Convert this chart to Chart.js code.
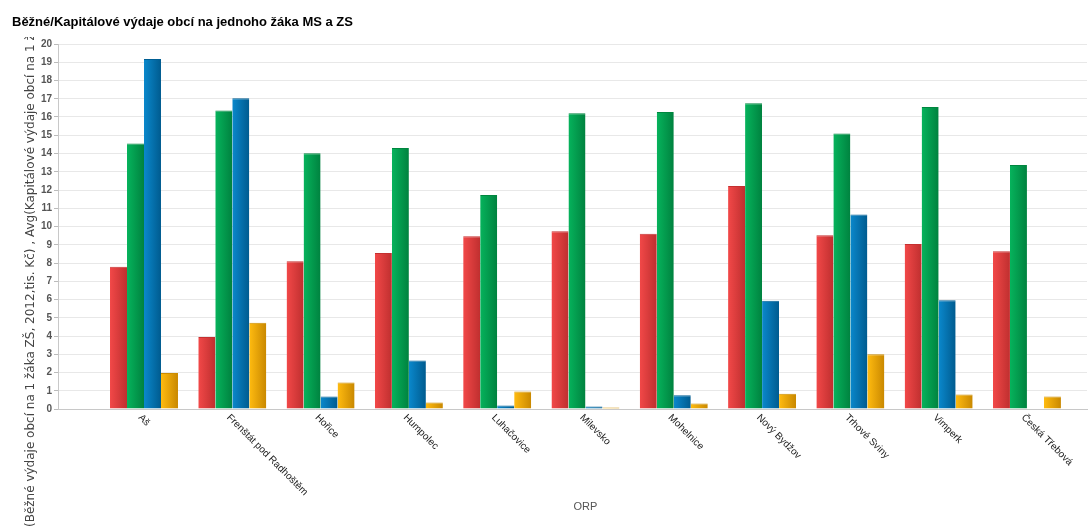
<!DOCTYPE html>
<html>
<head>
<meta charset="utf-8">
<title>Běžné/Kapitálové výdaje obcí na jednoho žáka MS a ZS</title>
<script src="https://cdn.jsdelivr.net/npm/chart.js@4.4.0/dist/chart.umd.min.js"></script>
<style>
  html, body { margin: 0; padding: 0; background: #fff; }
</style>
</head>
<body>
<canvas id="myChart" width="1089" height="532"></canvas>
<script>
(function () {

  "use strict";

  // chart data
  var chartTitle = "Běžné/Kapitálové výdaje obcí na jednoho žáka MS a ZS";
  var yTitle = "(Běžné výdaje obcí na 1 žáka ZŠ, 2012,tis. Kč) , Avg(Kapitálové výdaje obcí na 1 žáka ZŠ, 2012,tis. Kč)";
  var xTitle = "ORP";
  var orp = ["Aš", "Frenštát pod Radhoštěm", "Hořice", "Humpolec", "Luhačovice", "Milevsko",
             "Mohelnice", "Nový Bydžov", "Trhové Sviny", "Vimperk", "Česká Třebová"];
  var seriesNames = ["Běžné výdaje MS", "Běžné výdaje ZŠ", "Kapitálové výdaje MS", "Kapitálové výdaje ZŠ"];
  var bezneMS = [7.8, 3.94, 8.1, 8.55, 9.47, 9.74, 9.6, 12.22, 9.52, 9.04, 8.64];
  var bezneZS = [14.55, 16.35, 14.02, 14.3, 11.72, 16.2, 16.28, 16.75, 15.1, 16.55, 13.37];
  var kapitalMS = [19.18, 17.03, 0.69, 2.66, 0.19, 0.14, 0.75, 5.93, 10.66, 5.96, null];
  var kapitalZS = [1.97, 4.73, 1.45, 0.36, 0.96, 0.08, 0.3, 0.84, 3.0, 0.8, 0.69];
  var yTicks = { min: 0, max: 20, step: 1 };

  // left / right colour of each bar's shading
  var shades = [
    ["#f24848", "#bf2f2f"],
    ["#06b35c", "#00823f"],
    ["#0a88cc", "#005b8f"],
    ["#ffbb10", "#c98800"]
  ];
  var tops = ["#c43030", "#00863f", "#005f94", "#cc8d00"];

  function points(values) {
    return values.map(function (v, i) { return { x: i, y: v }; });
  }

  var decorations = {
    id: "decorations",
    beforeDatasetsDraw: function (chart) {
      var ctx = chart.ctx;
      chart.data.datasets.forEach(function (ds, di) {
        chart.getDatasetMeta(di).data.forEach(function (bar) {
          var half = bar.width / 2;
          var g = ctx.createLinearGradient(bar.x - half, 0, bar.x + half, 0);
          g.addColorStop(0, shades[di][0]);
          g.addColorStop(1, shades[di][1]);
          bar.options = Object.assign({}, bar.options, { backgroundColor: g });
        });
      });
    },
    afterDraw: function (chart) {
      var ctx = chart.ctx;
      var xs = chart.scales.x;

      ctx.save();
      ctx.fillStyle = "#000";
      ctx.font = "bold 13px Arial, 'Liberation Sans'";
      ctx.textAlign = "left";
      ctx.textBaseline = "alphabetic";
      ctx.fillText(chartTitle, 12, 26);
      ctx.restore();

      // y axis title, cut off at the top like in the original
      ctx.save();
      ctx.beginPath();
      ctx.rect(0, 37, 40, 532);
      ctx.clip();
      ctx.translate(34, 527);
      ctx.rotate(-Math.PI / 2);
      ctx.fillStyle = "#444";
      ctx.font = "12px 'DejaVu Sans', Verdana";
      ctx.textAlign = "left";
      ctx.textBaseline = "alphabetic";
      ctx.fillText(yTitle, 0, 0);
      ctx.restore();

      // category labels, turned 45 degrees clockwise
      orp.forEach(function (name, i) {
        var px = xs.getPixelForValue(i);
        ctx.save();
        ctx.translate(px - 4, 416);
        ctx.rotate(Math.PI / 4);
        ctx.fillStyle = "#222";
        ctx.font = "10px Arial, 'Liberation Sans'";
        ctx.textAlign = "left";
        ctx.textBaseline = "middle";
        ctx.fillText(name, 0, 0);
        ctx.restore();
      });

      ctx.save();
      ctx.fillStyle = "#555";
      ctx.font = "11px Arial, 'Liberation Sans'";
      ctx.textAlign = "center";
      ctx.textBaseline = "alphabetic";
      ctx.fillText(xTitle, xs.getPixelForValue((orp.length - 1) / 2), 510);
      ctx.restore();
    }
  };

  var series = [bezneMS, bezneZS, kapitalMS, kapitalZS];
  var datasets = series.map(function (values, i) {
    return {
      label: seriesNames[i],
      data: points(values),
      backgroundColor: shades[i][0],
      borderColor: tops[i],
      borderWidth: { top: 1, left: 0, right: 0, bottom: 0 },
      borderSkipped: "bottom",
      categoryPercentage: 0.77,
      barPercentage: 1
    };
  });

  var ctx = document.getElementById("myChart").getContext("2d");
  var myChart = new Chart(ctx, {
    type: "bar",
    data: { datasets: datasets },
    plugins: [decorations],
    options: {
      responsive: false,
      devicePixelRatio: 1,
      animation: false,
      layout: { padding: { top: 44, right: 2, bottom: 123, left: 0 } },
      plugins: {
        legend: { display: false },
        title: { display: false },
        tooltip: { enabled: false }
      },
      scales: {
        x: {
          type: "linear",
          min: -0.974,
          max: 10.68,
          offset: false,
          grid: { display: false },
          border: { color: "#c8c8c8", width: 1 },
          ticks: { display: false, stepSize: 1, includeBounds: false },
          afterFit: function (scale) { scale.height = 0; }
        },
        y: {
          min: yTicks.min,
          max: yTicks.max,
          grid: { color: "#e8e8e8", tickLength: 4, tickColor: "#bbb" },
          border: { color: "#c8c8c8", width: 1 },
          ticks: {
            stepSize: yTicks.step,
            padding: 2,
            color: "#555",
            font: { family: "Arial", size: 10, weight: "bold" }
          },
          afterFit: function (scale) { scale.width = 58; }
        }
      }
    }
  });

})();
</script>
</body>
</html>
